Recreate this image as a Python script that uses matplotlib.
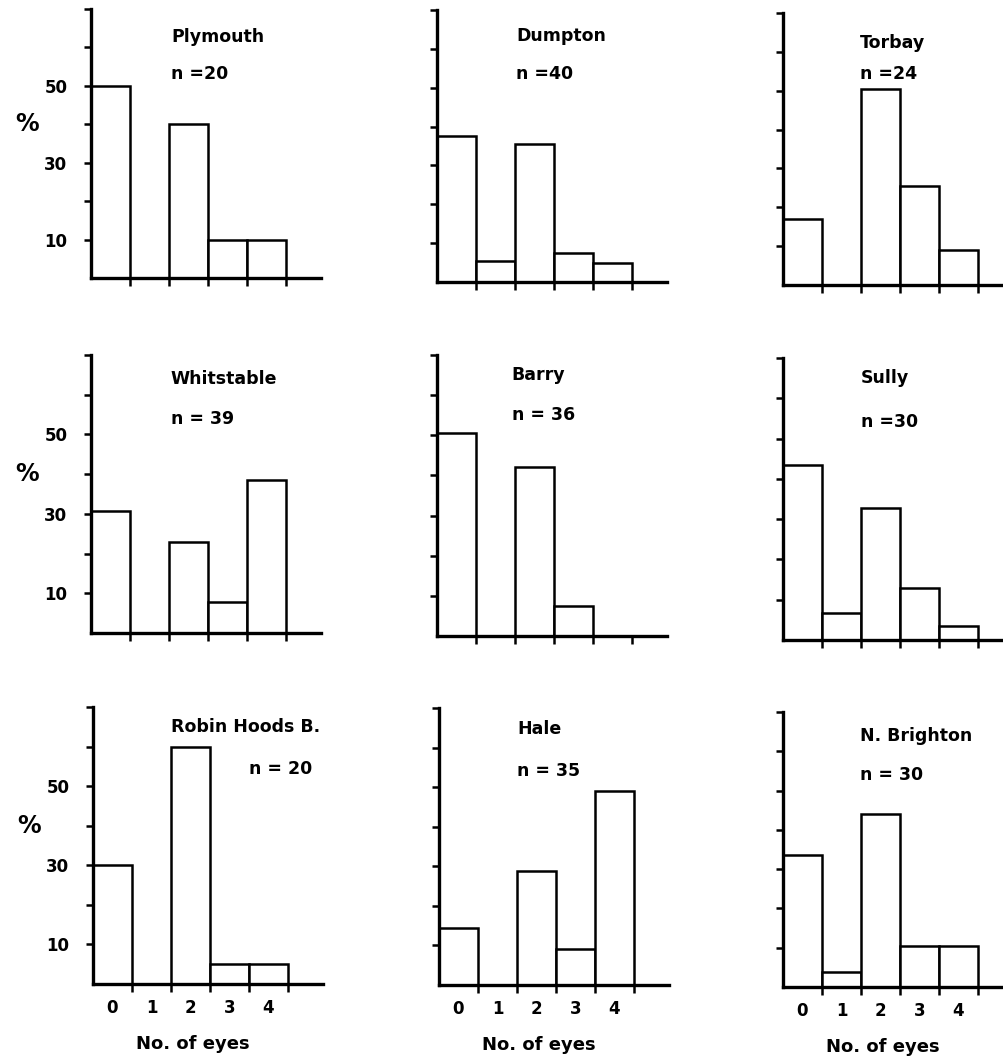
import matplotlib
matplotlib.use("Agg")
import matplotlib.pyplot as plt

# ---- data (percent of animals with 0..4 eyes) ----
eyes = [0, 1, 2, 3, 4]
eye_labels = ["0", "1", "2", "3", "4"]
sites = ["Plymouth", "Dumpton", "Torbay",
         "Whitstable", "Barry", "Sully",
         "Robin Hoods B.", "Hale", "N. Brighton"]
n_labels = ["n =20", "n =40", "n =24",
            "n = 39", "n = 36", "n =30",
            "n = 20", "n = 35", "n = 30"]
plymouth = [50, 0, 40, 10, 10]
dumpton = [37.5, 5.5, 35.5, 7.5, 5]
torbay = [17, 0, 50.5, 25.5, 9]
whitstable = [30.8, 0, 23, 7.7, 38.5]
barry = [50.5, 0, 42, 7.5, 0]
sully = [43.5, 6.8, 32.7, 13, 3.4]
robin_hoods = [30, 0, 60, 5, 5]
hale = [14.3, 0, 28.8, 9, 49]
n_brighton = [33.5, 3.7, 44, 10.5, 10.5]
series = [plymouth, dumpton, torbay, whitstable, barry, sully,
          robin_hoods, hale, n_brighton]
ytick_vals = [10, 20, 30, 40, 50, 60, 70]
ytick_text = ["10", "", "30", "", "50", "", ""]

W, H = 1004, 1060
fig = plt.figure(figsize=(W / 100, H / 100), dpi=100)
fig.patch.set_facecolor("white")

# pixel layout (axis origin x, baseline y, top y)
col_x = [[91, 437, 783], [91, 437, 783], [93, 439, 783]]
base_y = [[278, 282, 285], [633, 636, 640], [984, 985, 987]]
top_y = [[9, 10, 13], [355, 355, 358], [707, 708, 712]]
# title / n label positions in data coords
title_pos = [(2.05, 62.8), (2.03, 63.4), (1.97, 62.4),
             (2.05, 64.0), (1.92, 65.0), (1.99, 65.0),
             (2.0, 65.0), (2.0, 64.6), (1.97, 64.0)]
n_pos = [(2.05, 53.0), (2.03, 53.6), (1.97, 54.4),
         (2.05, 54.0), (1.92, 55.0), (1.99, 54.0),
         (4.0, 54.4), (2.0, 54.0), (1.97, 54.0)]

XMAX = 5.9
width_px = 230
fw = "bold"

for i in range(9):
    r, c = divmod(i, 3)
    x0 = col_x[r][c]
    yb = base_y[r][c]
    yt = top_y[r][c]
    ax = fig.add_axes([x0 / W, (H - yb) / H, width_px / W, (yb - yt) / H])
    ax.set_xlim(0, XMAX)
    ax.set_ylim(0, 70)
    ax.set_facecolor("none")
    ax.bar(eyes, series[i], width=1.0, align="edge", facecolor="white",
           edgecolor="black", linewidth=1.8, zorder=2)
    for s in ("top", "right"):
        ax.spines[s].set_visible(False)
    for s in ("left", "bottom"):
        ax.spines[s].set_linewidth(2.4)
        ax.spines[s].set_color("black")
    ax.spines["left"].set_zorder(3)
    ax.spines["bottom"].set_zorder(3)

    ax.set_yticks(ytick_vals)
    if c == 0:
        ax.set_yticklabels(ytick_text, fontsize=12, fontweight=fw)
        ax.text(-1.65, 40, "%", fontsize=17, fontweight=fw,
                ha="center", va="center")
    else:
        ax.set_yticklabels([])
    ax.tick_params(axis="y", direction="out", length=5, width=1.8,
                   pad=12, colors="black")

    ax.set_xticks([1, 2, 3, 4, 5])
    ax.set_xticklabels([])
    ax.tick_params(axis="x", which="major", direction="out", length=6,
                   width=1.8)
    if r == 2:
        ax.set_xticks([e + 0.5 for e in eyes], minor=True)
        ax.set_xticklabels(eye_labels, minor=True, fontsize=12,
                           fontweight=fw)
        ax.tick_params(axis="x", which="minor", length=0, pad=11)
        ax.set_xlabel("No. of eyes", fontsize=13, fontweight=fw,
                      labelpad=13, x=2.55 / XMAX)

    tx, ty = title_pos[i]
    ax.text(tx, ty, sites[i], fontsize=12.5, fontweight=fw,
            ha="left", va="center")
    nx, ny = n_pos[i]
    ax.text(nx, ny, n_labels[i], fontsize=12.5, fontweight=fw,
            ha="left", va="center")

fig.savefig("out.png", dpi=100, facecolor="white")
